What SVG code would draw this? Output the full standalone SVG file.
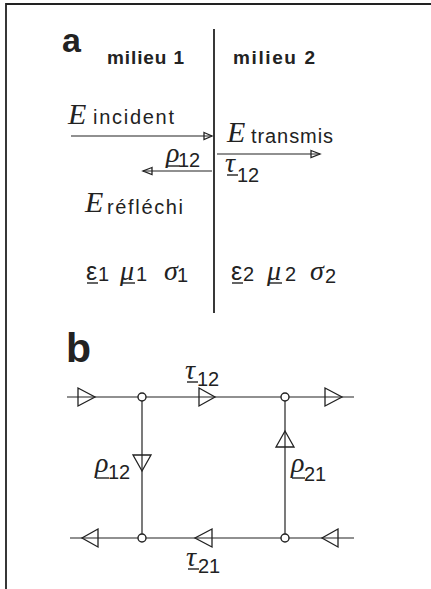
<svg xmlns="http://www.w3.org/2000/svg" width="431" height="589" viewBox="0 0 431 589">
<style>
.ln{stroke:#222;stroke-width:1.2;fill:none}
.thick{stroke:#222;stroke-width:1.8;fill:none}
.tri{stroke:#222;stroke-width:1.3;fill:none;stroke-linejoin:miter}
.node{stroke:#222;stroke-width:1.4;fill:#fff}
.lab{font-family:"Liberation Sans",Arial,sans-serif;font-weight:bold;fill:#222}
.sans{font-family:"Liberation Sans",Arial,sans-serif;fill:#222}
.E{font-family:"Liberation Serif","Times New Roman",serif;font-style:italic;fill:#222;font-size:30px}
.gr{font-family:"Liberation Serif","Times New Roman",serif;font-style:italic;fill:#222;font-size:28px}
.sub{font-family:"Liberation Sans",Arial,sans-serif;fill:#222;font-size:20px}
.ul{stroke:#222;stroke-width:1.4}
</style>
<rect width="431" height="589" fill="#fff"/>
<!-- frame -->
<path class="thick" d="M6 589 V4 H431"/>

<!-- part a -->
<g id="part-a">
<text class="lab" x="62" y="52" font-size="34">a</text>
<text class="lab" x="107" y="64" font-size="19" textLength="77" lengthAdjust="spacing">milieu 1</text>
<text class="lab" x="233" y="64" font-size="19" textLength="82" lengthAdjust="spacing">milieu 2</text>
<line id="interface" class="thick" x1="214" y1="29" x2="214" y2="313"/>
</g>

<g id="connectors-a">
<line class="ln" x1="71" y1="136" x2="212" y2="136"/>
<polygon class="tri" points="204,132.5 212,136 204,139.5"/>
<line class="ln" x1="217" y1="154" x2="320" y2="154"/>
<polygon class="tri" points="311,150.5 320,154 311,157.5"/>
<line class="ln" x1="212" y1="171" x2="143" y2="171"/>
<polygon class="tri" points="152,167.5 143,171 152,174.5"/>
</g>

<g id="label-incident">
<text class="E" x="68" y="124">E</text>
<text class="sub" x="93" y="124" font-size="22" textLength="81" lengthAdjust="spacing">incident</text>
</g>
<g id="label-transmis">
<text class="E" x="227" y="142">E</text>
<text class="sub" x="251" y="143" font-size="22" textLength="82" lengthAdjust="spacing">transmis</text>
</g>
<g id="label-reflechi">
<text class="E" x="85" y="212">E</text>
<text class="sub" x="107" y="214" font-size="22" textLength="76" lengthAdjust="spacing">réfléchi</text>
</g>
<g id="label-rho12-a">
<text class="gr" x="166" y="162">ρ</text>
<line class="ul" x1="166" y1="166" x2="180" y2="166"/>
<text class="sub" x="178" y="167">12</text>
</g>
<g id="label-tau12-a">
<text class="gr" x="225" y="172">τ</text>
<line class="ul" x1="227" y1="175" x2="238" y2="175"/>
<text class="sub" x="237" y="182">12</text>
</g>

<g id="medium1">
<text class="sans" x="86" y="280" font-size="25">ε</text>
<line class="ul" x1="87" y1="283" x2="98" y2="283"/>
<text class="sans" x="98" y="281" font-size="20">1</text>
<text class="gr" x="120" y="280">μ</text>
<line class="ul" x1="122" y1="283" x2="135" y2="283"/>
<text class="sans" x="136" y="281" font-size="20">1</text>
<text class="gr" x="164" y="280">σ</text>
<text class="sans" x="177" y="282" font-size="20">1</text>
</g>
<g id="medium2">
<text class="sans" x="231" y="280" font-size="25">ε</text>
<line class="ul" x1="232" y1="283" x2="243" y2="283"/>
<text class="sans" x="243" y="281" font-size="20">2</text>
<text class="gr" x="267" y="280">μ</text>
<line class="ul" x1="269" y1="283" x2="282" y2="283"/>
<text class="sans" x="285" y="281" font-size="20">2</text>
<text class="gr" x="310" y="280">σ</text>
<text class="sans" x="325" y="283" font-size="20">2</text>
</g>

<!-- part b -->
<text class="lab" x="66" y="362" font-size="41">b</text>

<g id="connectors-b">
<line class="ln" x1="67" y1="397" x2="354" y2="397"/>
<line class="ln" x1="70" y1="538" x2="354" y2="538"/>
<line class="ln" x1="142" y1="397" x2="142" y2="538"/>
<line class="ln" x1="285" y1="397" x2="285" y2="538"/>
<polygon class="tri" points="78,388 95,397 78,406"/>
<polygon class="tri" points="199,388 215,397 199,406"/>
<polygon class="tri" points="325,388 342,397 325,406"/>
<polygon class="tri" points="133,455 151,455 142,471"/>
<polygon class="tri" points="276,447 294,447 285,431"/>
<polygon class="tri" points="98,529 82,538 98,547"/>
<polygon class="tri" points="212,529 195,538 212,547"/>
<polygon class="tri" points="338,529 322,538 338,547"/>
</g>

<g id="node-tl"><circle class="node" cx="142" cy="397" r="4"/></g>
<g id="node-tr"><circle class="node" cx="285" cy="397" r="4"/></g>
<g id="node-bl"><circle class="node" cx="142" cy="538" r="4"/></g>
<g id="node-br"><circle class="node" cx="285" cy="538" r="4"/></g>

<g id="label-tau12-b">
<text class="gr" x="185" y="379">τ</text>
<line class="ul" x1="187" y1="382" x2="198" y2="382"/>
<text class="sub" x="197" y="386">12</text>
</g>
<g id="label-rho12-b">
<text class="gr" x="95" y="472">ρ</text>
<line class="ul" x1="96" y1="478" x2="109" y2="478"/>
<text class="sub" x="108" y="479">12</text>
</g>
<g id="label-rho21-b">
<text class="gr" x="291" y="472">ρ</text>
<line class="ul" x1="292" y1="478" x2="305" y2="478"/>
<text class="sub" x="304" y="481">21</text>
</g>
<g id="label-tau21-b">
<text class="gr" x="186" y="566">τ</text>
<line class="ul" x1="188" y1="569" x2="199" y2="569"/>
<text class="sub" x="198" y="573">21</text>
</g>
</svg>
